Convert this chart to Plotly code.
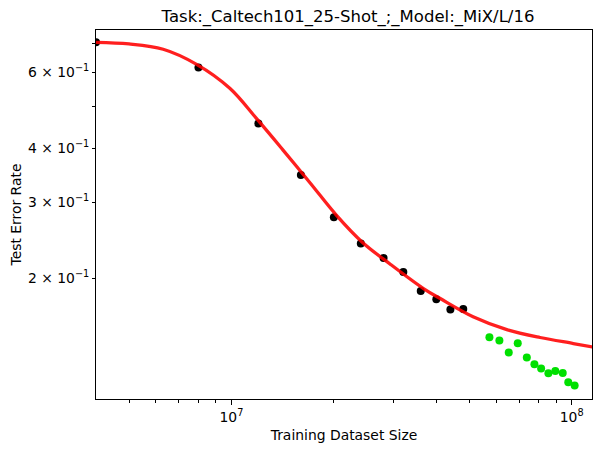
import plotly.graph_objects as go

# observed points (black) and held-out points (green)
seen_size = [4.0e6, 8.0e6, 1.2e7, 1.6e7, 2.0e7, 2.4e7, 2.8e7, 3.2e7, 3.6e7, 4.0e7, 4.4e7, 4.8e7]
seen_err = [0.704, 0.616, 0.457, 0.347, 0.277, 0.241, 0.223, 0.207, 0.187, 0.179, 0.1695, 0.170]

held_size = [5.73e7, 6.13e7, 6.53e7, 6.94e7, 7.38e7, 7.77e7, 8.13e7, 8.54e7, 8.95e7, 9.41e7, 9.77e7, 1.02e8]
held_err = [0.1462, 0.1437, 0.1347, 0.1416, 0.1312, 0.1266, 0.1237, 0.1207, 0.1221, 0.1209, 0.1150, 0.1130]

# fitted curve
fit_size = [4.0e6, 5.0e6, 6.3e6, 7.9e6, 9.89e6, 1.184e7, 1.418e7, 1.706e7, 2.033e7,
            2.424e7, 2.929e7, 3.668e7, 4.107e7, 5.13e7, 6.446e7, 8.07e7, 1.011e8, 1.15e8]
fit_err = [0.704, 0.698, 0.6785, 0.626, 0.551, 0.4694, 0.3965, 0.3323, 0.2804,
           0.2427, 0.2158, 0.1895, 0.1797, 0.1631, 0.1523, 0.146, 0.1414, 0.1388]

y_ticks = [0.2, 0.3, 0.4, 0.5, 0.6, 0.7]
y_labels = ["2 × 10<sup>−1</sup>", "3 × 10<sup>−1</sup>", "4 × 10<sup>−1</sup>", "",
            "6 × 10<sup>−1</sup>", ""]
x_ticks = [1e7, 1e8]
x_labels = ["10<sup>7</sup>", "10<sup>8</sup>"]
x_minor = [5e6, 6e6, 7e6, 8e6, 9e6, 2e7, 3e7, 4e7, 5e7, 6e7, 7e7, 8e7, 9e7]

fig = go.Figure()

fig.add_trace(go.Scatter(
    x=seen_size, y=seen_err, mode='markers',
    marker=dict(color='black', size=8), showlegend=False
))
fig.add_trace(go.Scatter(
    x=held_size, y=held_err, mode='markers',
    marker=dict(color='#00e000', size=8), showlegend=False
))
fig.add_trace(go.Scatter(
    x=fit_size, y=fit_err, mode='lines',
    line=dict(color='rgba(255,0,0,0.88)', width=3.3, shape='spline', smoothing=1.0),
    showlegend=False
))

# the page body adds an 8px margin, so the figure is a bit smaller and shifted
font = "DejaVu Sans"
fig.update_layout(
    width=594, height=449,
    margin=dict(l=88, r=10, t=22, b=58),
    paper_bgcolor='white', plot_bgcolor='white',
    font=dict(family=font, size=13.9, color='black'),
    title=dict(text="Task:_Caltech101_25-Shot_;_Model:_MiX/L/16",
               x=0.5724, xanchor='center', y=0.969, yref='container', yanchor='bottom',
               font=dict(size=16.5, family=font)),
)

fig.update_xaxes(
    type='log', range=[6.602, 8.0596], automargin=False,
    tickvals=x_ticks, ticktext=x_labels,
    ticks='outside', ticklen=5, tickwidth=1, tickcolor='black',
    minor=dict(tickvals=x_minor, ticks='outside', ticklen=3, tickwidth=0.8,
               tickcolor='black', showgrid=False),
    showgrid=False, zeroline=False,
    showline=True, linecolor='black', linewidth=1, mirror=True,
    title=dict(text="Training Dataset Size", standoff=6, font=dict(size=13.9)),
)
fig.update_yaxes(
    type='log', range=[-0.978, -0.1238], automargin=False,
    tickvals=y_ticks, ticktext=y_labels,
    ticks='outside', ticklen=3, tickwidth=0.8, tickcolor='black',
    showgrid=False, zeroline=False,
    showline=True, linecolor='black', linewidth=1, mirror=True,
    title=dict(text="Test Error Rate", standoff=9, font=dict(size=13.9)),
)

fig.write_html("out.html")
